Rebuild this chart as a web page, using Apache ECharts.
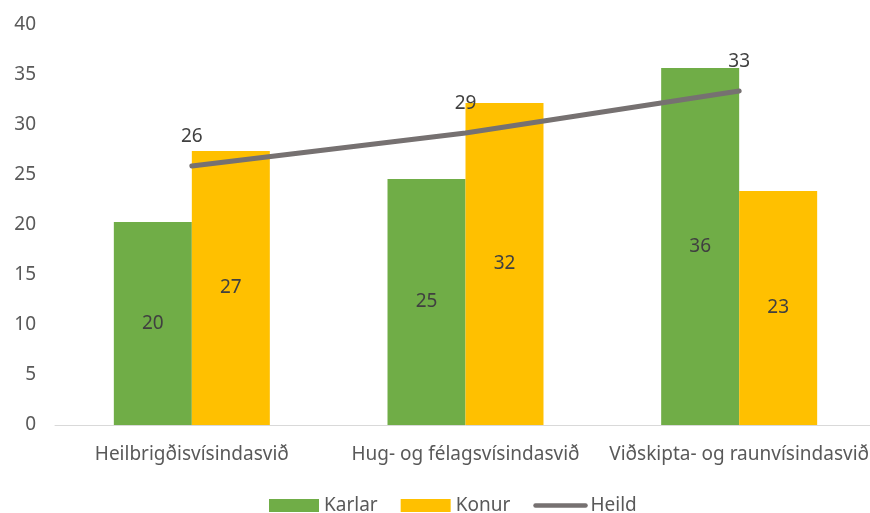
<!DOCTYPE html>
<html><head><meta charset="utf-8">
<script src="https://cdn.jsdelivr.net/npm/echarts@6/dist/echarts.min.js"></script>
<style>html,body{margin:0;padding:0;background:#fff;overflow:hidden;width:870px;height:513px}#c{width:880px;height:513px}</style>
</head><body><div id="c"></div>
<script>
const categories = ['Heilbrigðisvísindasvið', 'Hug- og félagsvísindasvið', 'Viðskipta- og raunvísindasvið'];
const karlar = [20.3, 24.6, 35.7];
const konur = [27.4, 32.2, 23.4];
const heild = [25.9, 29.2, 33.4];
const yTicks = [0, 5, 10, 15, 20, 25, 30, 35, 40];

const font = '"Noto Sans", sans-serif';
const chart = echarts.init(document.getElementById('c'));
const lbl = {
  show: true, position: 'inside', color: '#404040', fontSize: 19, fontFamily: font,
  formatter: p => Math.round(p.value)
};
chart.setOption({
  animation: false,
  grid: { left: 55, right: 4, top: 25, height: 400 },
  legend: {
    top: 496, left: 269, padding: 0, itemWidth: 50, itemHeight: 13, itemGap: 23,
    textStyle: { color: '#595959', fontSize: 19, fontFamily: font },
    data: [
      { name: 'Karlar', icon: 'rect' },
      { name: 'Konur', icon: 'rect' },
      { name: 'Heild', itemStyle: { color: 'rgba(0,0,0,0)', borderColor: 'rgba(0,0,0,0)', borderWidth: 0 },
        lineStyle: { width: 4.5, cap: 'round' } }
    ]
  },
  xAxis: {
    type: 'category', data: categories,
    axisLine: { lineStyle: { color: '#d9d9d9', width: 1 } },
    axisTick: { show: false },
    axisLabel: { color: '#595959', fontSize: 19, fontFamily: font, margin: 20, interval: 0 }
  },
  yAxis: {
    type: 'value', min: yTicks[0], max: yTicks[yTicks.length - 1], interval: 5,
    splitLine: { show: false },
    axisLine: { show: false }, axisTick: { show: false },
    axisLabel: { color: '#595959', fontSize: 19, fontFamily: font, margin: 19 }
  },
  series: [
    { name: 'Karlar', type: 'bar', data: karlar, barGap: '0%', barCategoryGap: '43%',
      itemStyle: { color: '#70AD47' }, label: lbl },
    { name: 'Konur', type: 'bar', data: konur,
      itemStyle: { color: '#FFC000' }, label: lbl },
    { name: 'Heild', type: 'line', data: heild, symbol: 'circle', symbolSize: 1, showSymbol: true,
      lineStyle: { color: '#767171', width: 5, cap: 'round' }, itemStyle: { color: '#767171' },
      label: { show: true, position: 'top', distance: 19, color: '#404040', fontSize: 19, fontFamily: font,
        formatter: p => Math.round(p.value) } }
  ]
});
</script></body></html>
